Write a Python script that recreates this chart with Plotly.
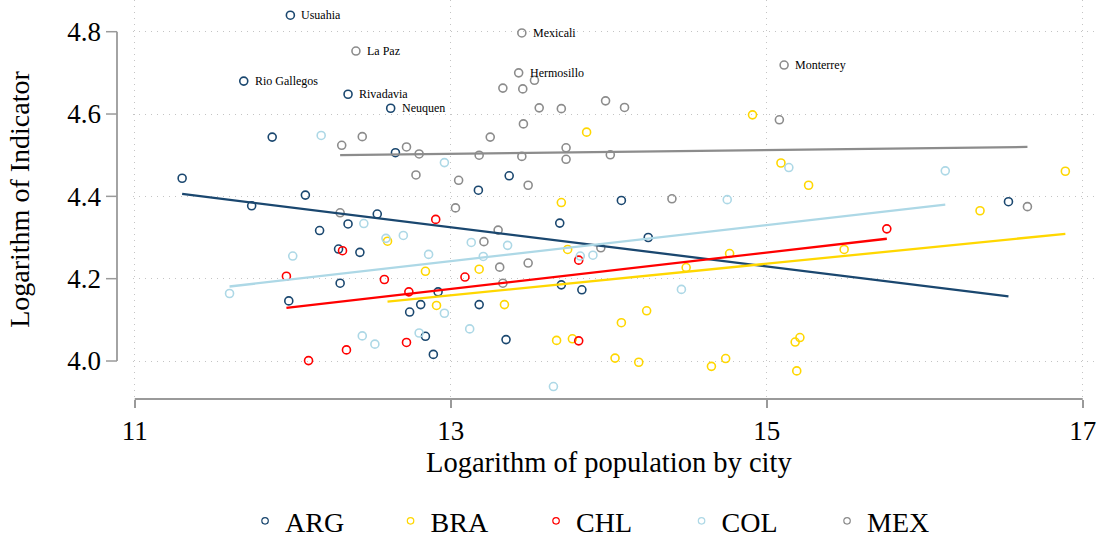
import plotly.graph_objects as go

# Log population (x) and log indicator (y) by city, grouped by country
countries = ["ARG", "BRA", "CHL", "COL", "MEX"]
colors = ["#1a476f", "#ffd700", "#ff0000", "#add8e6", "#8c8c8c"]

arg_names = ["Usuahia", "Rio Gallegos", "Rivadavia", "Neuquen"] + [""] * 27
arg_x = [11.985, 11.69, 12.35, 12.62, 11.87, 11.30, 12.65, 11.74, 12.08, 12.17,
         12.35, 12.535, 12.29, 12.425, 12.30, 11.975, 12.81, 12.74, 12.92, 12.84,
         12.89, 13.175, 13.18, 13.37, 13.35, 13.69, 13.70, 13.83, 14.08, 14.25, 16.53]
arg_y = [4.840, 4.680, 4.648, 4.614, 4.544, 4.444, 4.506, 4.377, 4.403, 4.317,
         4.333, 4.357, 4.272, 4.264, 4.189, 4.146, 4.137, 4.119, 4.168, 4.060,
         4.016, 4.415, 4.137, 4.450, 4.052, 4.335, 4.185, 4.173, 4.390, 4.300, 4.387]

bra_names = [""] * 27
bra_x = [13.86, 14.91, 15.09, 15.265, 16.89, 16.35, 15.49, 15.21, 15.18, 15.19,
         13.70, 13.18, 13.74, 13.34, 14.765, 14.49, 14.24, 14.08, 13.67, 13.77,
         14.04, 14.19, 14.65, 14.74, 12.60, 12.84, 12.91]
bra_y = [4.556, 4.598, 4.481, 4.427, 4.461, 4.365, 4.271, 4.057, 4.046, 3.976,
         4.385, 4.223, 4.271, 4.137, 4.261, 4.227, 4.122, 4.093, 4.050, 4.054,
         4.007, 3.997, 3.987, 4.006, 4.291, 4.218, 4.135]

chl_names = [""] * 12
chl_x = [11.96, 12.10, 12.315, 12.34, 12.58, 12.72, 12.735, 12.905, 13.09, 13.81,
         13.81, 15.76]
chl_y = [4.206, 4.001, 4.268, 4.027, 4.198, 4.045, 4.168, 4.344, 4.204, 4.245,
         4.049, 4.321]

col_names = [""] * 23
col_x = [12.18, 12.96, 15.14, 16.13, 14.75, 13.36, 13.206, 13.82, 13.90, 14.46,
         13.65, 12.45, 12.59, 12.70, 13.13, 12.00, 12.86, 11.60, 12.96, 12.44,
         12.52, 12.80, 13.12]
col_y = [4.548, 4.482, 4.470, 4.462, 4.392, 4.281, 4.254, 4.255, 4.257, 4.174,
         3.938, 4.334, 4.298, 4.305, 4.288, 4.255, 4.259, 4.164, 4.116, 4.061,
         4.041, 4.068, 4.078]

mex_names = ["La Paz", "Mexicali", "Hermosillo", "Monterrey"] + [""] * 32
mex_x = [12.40, 13.45, 13.43, 15.11, 13.53, 13.33, 13.456, 13.56, 13.70, 13.98,
         14.10, 13.46, 13.25, 12.72, 12.80, 13.18, 13.45, 13.73, 13.73, 14.01,
         12.78, 13.05, 13.49, 15.08, 12.31, 12.44, 12.30, 13.03, 14.40, 13.30,
         13.21, 13.31, 13.49, 13.95, 13.33, 16.65]
mex_y = [4.753, 4.797, 4.700, 4.719, 4.682, 4.663, 4.661, 4.615, 4.613, 4.632,
         4.616, 4.576, 4.544, 4.520, 4.503, 4.500, 4.497, 4.518, 4.490, 4.501,
         4.452, 4.439, 4.427, 4.586, 4.524, 4.545, 4.360, 4.372, 4.394, 4.318,
         4.290, 4.228, 4.238, 4.275, 4.189, 4.375]

# Linear fit values at each country's smallest and largest population
fit_start = [4.406, 4.144, 4.129, 4.181, 4.500]
fit_end = [4.157, 4.309, 4.297, 4.380, 4.520]

x_ticks = [11, 13, 15, 17]
y_ticks = [4.0, 4.2, 4.4, 4.6, 4.8]
y_tick_labels = ["4.0", "4.2", "4.4", "4.6", "4.8"]

groups = [
    (arg_x, arg_y, arg_names),
    (bra_x, bra_y, bra_names),
    (chl_x, chl_y, chl_names),
    (col_x, col_y, col_names),
    (mex_x, mex_y, mex_names),
]

SERIF = "Liberation Serif"
AXIS_GREY = "#9a9a9a"
GRID_GREY = "#c4c4c4"

fig = go.Figure()

for name, color, (xs, ys, _) in zip(countries, colors, groups):
    fig.add_trace(go.Scatter(
        x=xs, y=ys, name=name, mode="markers", showlegend=False,
        marker=dict(symbol="circle-open", size=8, color=color,
                    line=dict(width=1.6, color=color)),
        cliponaxis=False,
    ))

for name, color, (xs, ys, _), y0, y1 in zip(countries, colors, groups, fit_start, fit_end):
    fig.add_trace(go.Scatter(
        x=[min(xs), max(xs)], y=[y0, y1], mode="lines",
        line=dict(color=color, width=2.3), showlegend=False, hoverinfo="skip",
    ))

# Legend keys: small thin hollow circles
for name, color in zip(countries, colors):
    fig.add_trace(go.Scatter(
        x=[None], y=[None], name=name, mode="markers",
        marker=dict(symbol="circle-open", size=6.5, color=color,
                    line=dict(width=1.2, color=color)),
    ))

# City name labels to the right of their markers
annotations = []
for xs, ys, labels in groups:
    for xv, yv, lab in zip(xs, ys, labels):
        if lab:
            annotations.append(dict(
                x=xv, y=yv, xref="x", yref="y", text=lab, showarrow=False,
                xanchor="left", yanchor="middle", xshift=9,
                font=dict(family=SERIF, size=12, color="black"),
            ))

# Plot area geometry in pixels (used to place the detached axes)
W, H = 1099, 538
ML, MR, MT, MB = 133, 0, 0, 139
plot_w = W - ML - MR
plot_h = H - MT - MB
y_axis_px = 117
y_tick_px = 106
x_title_px = 462
ax_x = (y_axis_px - ML) / plot_w
tk_x = (y_tick_px - ML) / plot_w

# x-axis title centred under the axis line rather than the plot area
annotations.append(dict(
    x=(x_ticks[0] + x_ticks[-1]) / 2, xref="x",
    y=(plot_h - x_title_px) / plot_h, yref="paper",
    text="Logarithm of population by city", showarrow=False,
    xanchor="center", yanchor="middle",
    font=dict(family=SERIF, size=28.5, color="black"),
))

shapes = [
    dict(type="line", xref="paper", yref="y", x0=ax_x, x1=ax_x,
         y0=y_ticks[0], y1=y_ticks[-1], line=dict(color=AXIS_GREY, width=1.8)),
    dict(type="line", xref="x", yref="paper", x0=x_ticks[0], x1=x_ticks[-1],
         y0=0, y1=0, line=dict(color=AXIS_GREY, width=1.8)),
]
for t in y_ticks:
    shapes.append(dict(type="line", xref="paper", yref="y", x0=tk_x, x1=ax_x,
                       y0=t, y1=t, line=dict(color=AXIS_GREY, width=1.5)))

fig.update_layout(
    width=W, height=H,
    margin=dict(l=ML, r=MR, t=MT, b=MB, autoexpand=False),
    paper_bgcolor="white", plot_bgcolor="white",
    font=dict(family=SERIF, color="black"),
    showlegend=True,
    xaxis=dict(
        range=[10.989, 17.103], tickvals=x_ticks,
        showgrid=True, gridcolor=GRID_GREY, gridwidth=1, griddash="1px,5px",
        zeroline=False, showline=False,
        ticks="outside", ticklen=8, tickwidth=1.5, tickcolor=AXIS_GREY,
        tickfont=dict(size=27, family=SERIF),
    ),
    yaxis=dict(
        range=[3.9077, 4.877], tickvals=y_ticks, ticktext=y_tick_labels,
        showgrid=True, gridcolor=GRID_GREY, gridwidth=1, griddash="1px,5px",
        zeroline=False, showline=False, ticks="",
        ticklabelstandoff=31,
        tickfont=dict(size=27, family=SERIF),
        title=dict(text="Logarithm of Indicator",
                   font=dict(size=28, family=SERIF), standoff=29),
    ),
    legend=dict(
        orientation="h", x=0.116, y=-0.306, xanchor="left", yanchor="middle",
        font=dict(size=28, family=SERIF), entrywidth=100.5, entrywidthmode="pixels",
        itemsizing="trace", bgcolor="rgba(0,0,0,0)",
    ),
    annotations=annotations,
    shapes=shapes,
)

fig.write_html("out.html")
